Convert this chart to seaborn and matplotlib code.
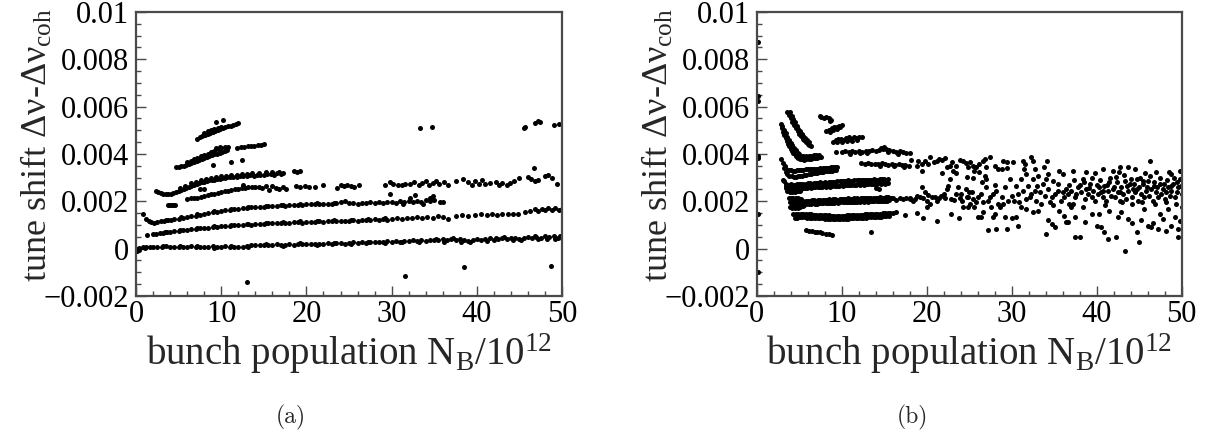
import matplotlib
matplotlib.use("Agg")
import matplotlib.pyplot as plt
import seaborn as sns
import pandas as pd
from matplotlib.ticker import MultipleLocator, FuncFormatter

# tune-shift values below are given in units of 1e-5
Y_UNIT = 1e-5

# ------------------------- panel (a) -------------------------
a_band_0 = [(0,-3),(0.4,4),(0.8,6),(1.2,8),(1.6,9),(2,7),(2.5,9),(3,8),(3.5,10),(4,8),(4.5,9),(5,7),(5.5,9),(6,8),(6.5,10),
            (7,8),(7.5,7),(8,9),(8.5,8),(9,10),(9.5,9),(10,8),(10.5,10),(11,9),(11.5,8),(12,6),(12.5,5),(13,10),(13.5,14),
            (14,16),(14.5,15),(15,17),(15.5,15),(16,16),(16.5,18),(17,16),(17.5,17),(18,19),(18.5,17),(19,18),(19.5,20),
            (20,18),(20.5,19),(21,21),(21.5,19),(22,20),(22.5,22),(23,20),(23.5,22),(24,24),(24.5,21),(25,23),(25.5,26),
            (26,24),(26.5,27),(27,25),(27.5,28),(28,30),(28.5,26),(29,29),(29.5,31),(30,28),(30.5,32),(31,30),(31.5,34),
            (32,31),(32.5,35),(33,33),(33.5,36),(34,34),(34.5,38),(35,35),(35.5,37),(36,40),(36.5,36),(37,39),(37.5,35),
            (38,41),(38.5,37),(39,33),(39.5,38),(40,42),(40.5,36),(41,40),(41.5,44),(42,38),(42.5,42),(43,45),(43.5,40),
            (44,44),(44.5,47),(45,42),(45.5,46),(46,49),(46.5,45),(47,50),(47.5,47),(48,52),(48.5,48),(49,53),(49.5,46),
            (50,44),(0.1,-12),(0.3,-5),(36.2,30),(38.2,30),(39.2,27),(41.2,32),(42.2,47),(44.2,36),(45.2,38),(47.2,42),
            (48.2,40),(49.2,42),(49.8,55),(46.8,55),(43.2,50),(1,2),(3.2,12),(5.2,12),(7.2,12),(9.2,4),(11.2,12),(13.2,8),
            (15.2,20),(17.2,13),(19.2,22),(21.2,17),(23.2,25),(25.2,20),(27.2,30),(29.2,25),(31.2,27),(33.2,30),(35.2,40),
            (37.2,43)]

a_band_1 = [(2,60),(2.4,63),(2.8,65),(3.2,68),(3.6,70),(4,72),(4.5,74),(5,76),(5.5,79),(6,80),(6.5,83),(7,84),(7.5,86),
            (8,88),(8.5,89),(9,91),(9.5,93),(10,94),(10.5,96),(11,97),(11.5,99),(12,100),(12.5,101),(13,103),(13.5,102),
            (14,104),(14.5,106),(15,105),(15.5,107),(16,108),(16.5,107),(17,109),(17.5,110),(18,108),(18.5,111),(19,112),
            (19.5,110),(20,113),(20.5,114),(21,112),(21.5,115),(22,114),(22.5,116),(23,115),(23.5,117),(24,116),(24.5,118),
            (25,117),(25.5,120),(26,118),(26.5,121),(27,119),(27.5,122),(28,124),(28.5,121),(29,125),(29.5,123),(30,126),
            (30.6,128),(31.2,125),(31.8,130),(32.4,128),(33,132),(33.6,129),(34.2,134),(34.8,131),(35.4,136),(36,133),
            (36.6,124),(37.5,138),(38.3,141),(39,136),(39.8,142),(40.5,145),(41.2,143),(41.8,146),(42.4,144),(43,147),
            (43.6,145),(44.2,148),(44.8,146),(45.6,155),(46.2,160),(46.8,166),(47.2,158),(47.6,168),(48,162),(48.4,170),
            (48.8,165),(49.2,172),(49.6,163),(50,167),(3.4,72),(5.2,80),(7.2,88),(9.2,95),(11.2,101),(13.2,106),(15.2,109),
            (17.2,112),(19.2,115),(21.2,117),(23.2,119),(25.2,122),(27.2,125),(29.2,128)]

a_band_2 = [(1.2,125),(1.5,118),(1.8,113),(2.1,110),(2.5,112),(2.9,115),(3.3,117),(3.7,120),(4.1,122),(4.5,125),(5,127),
            (5.5,130),(6,133),(6.5,136),(7,140),(7.5,143),(8,147),(8.5,150),(9,153),(9.5,156),(10,160),(10.5,162),(11,164),
            (11.5,166),(12,168),(12.5,170),(13,172),(13.5,174),(14,175),(14.5,176),(15,178),(15.5,179),(16,180),(16.5,181),
            (17,183),(17.5,182),(18,184),(18.5,185),(19,186),(19.5,185),(20,187),(20.5,188),(21,187),(21.5,189),(22,188),
            (22.5,190),(23,189),(23.5,191),(24,196),(24.5,202),(25,192),(25.5,194),(26,190),(26.5,193),(27,191),(27.5,195),
            (28,192),(28.5,197),(29,193),(29.5,196),(30,199),(30.5,194),(31,201),(31.5,196),(32,203),(32.5,198),(33,202),
            (33.5,199),(34,205),(34.5,200),(35,204),(35.7,197),(3.5,123),(5.3,133),(7.2,145),(9.2,158),(11.2,168),
            (13.2,177),(15.2,182),(17.2,186),(19.2,190),(21.2,191),(23.2,193),(29.8,231),(32.2,214),(32.8,227),(34.5,212),
            (34.9,222),(36,196),(33.7,190),(31.3,190)]

a_band_3 = [(6,210),(6.4,212),(6.8,214),(7.2,216),(7.6,220),(8,224),(8.4,226),(8.8,229),(9.2,232),(9.6,236),(10,240),
            (10.4,242),(10.8,245),(11.2,248),(11.6,250),(12,253),(12.4,255),(12.8,257),(13.2,259),(13.6,261),(14,260),
            (14.4,262),(14.8,258),(15.2,263),(15.6,248),(16,264),(16.4,258),(16.8,250),(17.2,262),(17.6,252),(18.8,266),
            (19.3,262),(19.8,265),(20.3,260),(21,262),(21.9,268),(23.6,257),(24,268),(24.4,264),(24.8,270),(25.2,266),
            (25.6,262),(26.2,268),(29.2,268),(29.8,282),(30.2,275),(30.8,270),(31.2,268),(31.6,275),(32.2,272),(32.6,280),
            (33.2,270),(33.6,276),(34,284),(34.4,270),(34.8,278),(35.2,287),(35.6,273),(36.2,280),(36.6,270),(37.5,285),
            (38.4,295),(39,280),(39.4,270),(39.8,284),(40.2,275),(40.6,288),(41,272),(41.6,278),(42.2,283),(42.6,270),
            (43,276),(43.5,268),(43.9,279),(44.4,285),(44.9,299),(46,302),(46.4,296),(46.8,285),(47.2,290),(48,305),
            (48.4,310),(48.8,298),(49.4,273)]

a_band_4 = [(2.3,245),(2.6,238),(2.9,234),(3.2,232),(3.5,230),(3.8,231),(4.1,233),(4.4,236),(4.7,240),(5,244),(5.3,248),
            (5.6,252),(5.9,257),(6.2,262),(6.5,266),(6.8,270),(7.1,273),(7.4,277),(7.7,280),(8,283),(8.3,285),(8.6,288),
            (8.9,290),(9.2,292),(9.5,294),(9.8,296),(10.1,298),(10.4,299),(10.7,301),(11,302),(11.4,303),(11.8,304),
            (12.2,306),(12.6,307),(13,308),(13.4,310),(13.8,309),(14.2,312),(14.6,311),(15,313),(15.4,314),(15.8,316),
            (16.2,313),(16.6,318),(17,315),(17.3,320),(5.2,258),(5.8,266),(6.4,276),(7,282),(7.6,288),(8.2,294),(8.8,300),
            (9.4,303),(10,306),(10.6,309),(11.2,311),(11.8,313),(12.4,315),(13,317),(13.6,318),(14.4,320),(15.2,322),
            (16,324),(16.8,325),(18.5,326),(18.9,322),(19.2,327),(3.8,183),(4,183),(4.2,184),(4.4,183),(4.6,185),
            (7.5,252),(8,250),(12.5,270)]

a_band_5 = [(4.7,344),(5,346),(5.3,348),(5.6,350),(5.9,354),(6.2,358),(6.5,362),(6.8,366),(7.1,370),(7.4,374),(7.7,378),
            (8,382),(8.3,386),(8.6,390),(8.9,394),(9.2,398),(9.5,402),(9.8,406),(10.1,410),(10.4,412),(10.7,416),(6,366),
            (6.4,372),(6.8,378),(7.2,384),(7.6,390),(8,396),(8.4,402),(8.8,408),(9.2,414),(9.6,420),(10,426),(10.4,430),
            (10.8,428),(9.8,430),(9.4,425),(10.6,422),(11.9,425),(12.3,428),(12.7,430),(13.1,432),(13.5,433),(13.9,435),
            (14.3,437),(14.7,440),(15,442),(9,355),(11.2,368),(12.4,376)]

a_band_6 = [(7.2,464),(7.5,470),(7.8,474),(8.1,480),(8.4,485),(8.7,490),(9,494),(9.3,498),(9.6,502),(9.9,506),(10.2,510),
            (10.5,514),(10.8,518),(11.1,520),(11.4,524),(11.7,527),(12,530),(8,490),(8.4,496),(8.8,500),(9.2,506),(9.6,510),
            (10,514),(9.4,534),(10.2,544)]

a_outliers = [(0.8,147),(1.3,58),(13,-140),(31.6,-114),(38.5,-76),(48.7,-72),(33.3,510),(34.7,513),(45.5,508),(45.6,515),
              (46.8,530),(47.2,540),(47.4,535),(49,522),(49.6,528),(46.7,341)]

# ------------------------- panel (b) -------------------------
b_edge = [(0.1,872),(0.1,647),(0.1,623),(0.1,393),(0.1,383),(0.1,147),(0.1,-100)]

b_fan_1 = [(3.6,578),(3.8,565),(4,550),(4.2,535),(4.4,522),(4.6,508),(4.8,496),(5,484),(5.2,474),(5.4,465),(5.6,458),
           (5.8,450),(6,443),(6.2,437),(6.4,432),(3.9,578),(4.1,562),(4.3,547),(4.5,534),(4.7,520),(4.9,507),(5.1,495),
           (5.3,485),(5.5,476),(5.7,468),(5.9,460),(6.1,452)]

b_fan_2 = [(2.8,527),(2.95,510),(3.1,494),(3.25,480),(3.4,467),(3.55,455),(3.7,444),(3.85,433),(4,423),(4.15,414),
           (4.3,406),(4.45,399),(4.6,393),(4.75,388),(4.9,384),(5.1,380),(5.35,377),(5.6,376),(5.85,377),(6.1,378),
           (6.35,380),(6.6,381),(6.85,383),(7.1,385),(7.35,387),(7.6,389),(3,520),(3.2,502),(3.4,487),(3.6,472),(3.8,459),
           (4,447),(4.2,436),(4.4,426),(4.6,416),(4.8,406),(5,398),(5.2,392),(5.5,390),(5.8,390),(6.1,391),(6.4,393),
           (6.7,394),(7,396),(7.3,397)]

b_fan_3 = [(2.9,379),(3.1,362),(3.3,348),(3.5,338),(3.75,332),(4,331),(4.25,330),(4.5,330),(4.75,331),(5,332),(5.25,333),
           (5.5,334),(5.75,335),(6,335),(6.25,336),(6.5,337),(6.75,337),(7,338),(7.25,338),(7.5,339),(7.75,340),(8,341),
           (8.25,341),(8.5,342),(8.75,343),(9,344),(9.25,345),(9.5,346),(3.2,340),(3.4,325),(3.6,315),(3.85,308),(4.1,305),
           (4.35,304),(4.6,304),(4.85,305),(5.1,307),(5.35,309),(5.6,311),(5.85,313),(6.1,315),(6.35,317),(6.6,318),
           (6.85,320),(7.1,321),(7.35,322),(7.6,324),(7.85,325),(8.1,326),(8.35,327),(8.6,329),(8.85,330),(9.1,331),
           (9.35,333)]

b_fan_4 = [(3.5,272),(3.75,271),(4,273),(4.25,271),(4.5,270),(4.75,272),(5,274),(5.25,273),(5.5,272),(5.75,275),(6,277),
           (6.25,276),(6.5,275),(6.75,278),(7,278),(7.25,276),(7.5,280),(7.75,279),(8,281),(8.25,279),(8.5,281),(8.75,283),
           (9,282),(9.25,280),(9.5,284),(9.75,284),(10,286),(10.25,284),(10.5,286),(10.75,288),(11,287),(11.25,285),
           (11.5,289),(11.75,288),(12,290),(12.25,288),(12.5,291),(12.75,290),(13,292),(13.25,290),(13.5,291),(13.75,293),
           (14,292),(14.25,290),(14.5,294),(14.75,293),(15,295),(15.25,292),(15.5,294),(3.4,256),(3.65,254),(3.9,253),
           (4.15,255),(4.4,252),(4.65,254),(4.9,256),(5.15,254),(5.4,257),(5.65,256),(5.9,258),(6.15,260),(6.4,258),
           (6.65,259),(6.9,261),(7.15,259),(7.4,262),(7.65,261),(7.9,263),(8.15,261),(8.4,264),(8.65,262),(8.9,265),
           (9.15,263),(9.4,266),(9.65,265),(9.9,268),(10.15,266),(10.4,269),(10.65,267),(10.9,270),(11.15,268),(11.4,271),
           (11.65,269),(11.9,272),(12.15,270),(12.4,273),(12.65,271),(12.9,274),(13.15,272),(13.4,274),(13.65,272),
           (13.9,275),(14.15,273),(14.4,276),(14.65,274),(14.9,276),(15.15,274),(15.4,277),(3.5,264),(3.8,262),(4.1,261),
           (4.4,262),(4.7,263),(5,264),(5.3,265),(3.6,242),(3.9,240),(4.2,240),(4.5,241),(4.8,243),(5.1,245),(3.1,292),
           (3.2,285),(14.4,252),(14,258)]

b_fan_5 = [(4,199),(4.25,200),(4.5,198),(4.75,201),(5,200),(5.25,202),(5.5,200),(5.75,203),(6,203),(6.25,202),(6.5,205),
           (6.75,204),(7,203),(7.25,206),(7.5,205),(7.75,207),(8,205),(8.25,207),(8.5,208),(8.75,206),(9,208),(9.25,209),
           (9.5,207),(9.75,210),(10,209),(10.25,211),(10.5,209),(10.75,212),(11,211),(11.25,210),(11.5,213),(11.75,212),
           (12,211),(12.25,214),(12.5,213),(12.75,215),(13,213),(13.25,215),(13.5,216),(13.75,214),(14,216),(14.25,215),
           (14.5,217),(14.75,216),(15,215),(15.25,217),(15.5,218),(15.75,216),(4.1,185),(4.35,186),(4.6,184),(4.85,187),
           (5.1,186),(5.35,188),(5.6,186),(5.85,189),(6.1,189),(6.35,188),(6.6,191),(6.85,190),(7.1,189),(7.35,192),
           (7.6,191),(7.85,193),(8.1,191),(8.35,193),(8.6,194),(8.85,192),(9.1,194),(9.35,195),(9.6,193),(9.85,196),
           (10.1,195),(10.35,197),(10.6,195),(10.85,198),(11.1,197),(11.35,196),(11.6,199),(11.85,198),(12.1,197),
           (12.35,200),(12.6,199),(12.85,201),(13.1,199),(13.35,201),(13.6,202),(13.85,200),(14.1,202),(14.35,201),
           (14.6,203),(14.85,202),(15.1,201),(15.35,203),(15.6,204),(3.8,212),(4,215),(4.3,216),(4.6,214),(4.9,212),
           (5.2,210),(3.9,178),(4.2,172),(4.5,170),(4.8,173),(5.1,176),(5.4,180),(3.9,195),(4.3,192),(16,212),(16.4,206),
           (16.8,214),(17.2,209),(17.6,216),(18,211)]

b_fan_6 = [(4.3,145),(4.6,146),(4.9,146),(5.2,146),(5.5,146),(5.8,146),(6.1,145),(6.4,145),(6.7,144),(7,144),(7.3,143),
           (7.6,142),(7.9,142),(8.2,141),(8.5,141),(8.8,140),(9.1,140),(9.4,140),(9.7,139),(10,139),(10.3,140),(10.6,141),
           (10.9,141),(11.2,142),(11.5,143),(11.8,143),(12.1,144),(12.4,144),(12.7,145),(13,145),(13.3,146),(13.6,146),
           (13.9,146),(14.2,147),(14.5,148),(14.8,149),(15.1,150),(15.4,150),(15.7,151),(16,152),(4.45,131),(4.75,131),
           (5.05,132),(5.35,132),(5.65,132),(5.95,131),(6.25,131),(6.55,130),(6.85,130),(7.15,129),(7.45,128),(7.75,128),
           (8.05,127),(8.35,127),(8.65,126),(8.95,126),(9.25,125),(9.55,125),(9.85,125),(10.15,126),(10.45,127),
           (10.75,127),(11.05,128),(11.35,129),(11.65,129),(11.95,130),(12.25,130),(12.55,131),(12.85,131),(13.15,132),
           (13.45,132),(13.75,133),(14.05,133),(14.35,134),(14.65,135),(14.95,136),(15.25,136),(15.55,137),(16.4,154),
           (17.5,144)]

b_fan_7 = [(5.8,79),(6.1,75),(6.5,73),(6.8,72),(7.1,69),(7.4,70),(7.7,66),(8.1,62),(8.5,60),(8.9,57),(13.5,69)]

b_upper = [(7.4,560),(7.6,556),(7.9,552),(8.2,556),(8.5,552),(8.7,545),(8.6,540),
           (8.2,496),(8.5,502),(8.8,508),(9.1,512),(9.4,516),(9.7,520),(10,524),(8.6,494),(9,500),(9.4,506),(9.8,512),
           (9,452),(9.3,458),(9.6,462),(9.9,465),(10.2,460),(10.5,466),(10.8,470),(11.1,465),(11.4,470),(11.7,468),
           (12,472),(12.4,470),(9.5,450),(10,452),(10.6,455),(11.2,456),(11.8,458),
           (10,408),(10.4,412),(10.8,410),(11.2,413),(11.6,410),(12,412),(12.4,408),(12.8,411),(13.2,413),(13.6,415),
           (14,414),(14.4,418),(14.8,420),(15.2,423),(15.6,416),(16,413),(16.4,410),(16.8,412),(17.2,408),(17.6,405),
           (18,403),(14.6,425),(15,428),(11,402),(13,404),(12.2,404),(15.4,408),(16.6,402),(9.3,410),
           (12.3,360),(12.7,358),(13.1,361),(13.5,357),(13.9,359),(14.3,356),(14.7,360),(15.1,357),(15.5,355),(15.9,358),
           (16.3,354),(16.7,356),(17.1,352),(17.5,354),(17.9,350),(14.5,350),(16.1,348),(17.3,345)]

b_scatter_18_25 = [(18.2,375),(18.8,351),(19.4,358),(19.8,372),(20.4,386),(20.2,358),(20.8,365),(21.2,372),(21.8,375),
                   (22.2,383),(22.4,347),(22.7,351),(23.1,330),(23.5,351),(23.9,375),(24.3,372),(24.9,344),(19,370),
                   (21.5,380),(23,368),(24.6,360),(19.4,327),(21.8,320),(23.5,318),(24.7,301),
                   (18.4,203),(18.8,224),(19.4,262),(19.8,238),(20,203),(20.4,189),(20.6,217),(21.2,203),(21.5,214),
                   (22,231),(22.4,252),(22.5,266),(22.7,294),(22.9,210),(23.4,231),(23.7,259),(24,231),(24.1,203),
                   (24.6,252),(24.7,217),(25,238),(18,214),(18.6,210),(19.2,220),(19.6,212),(20.2,225),(21,218),
                   (21.7,222),(22.2,213),(23.2,205),(23.9,215),
                   (18.8,149),(19.6,130),(21.2,116),(23.8,130),(22.9,146),(24.9,175),(24.3,178),(20,175)]

b_cloud_upper = [(25.1,365),(25.5,351),(25.8,344),(26.2,358),(26.6,372),(26.8,379),(27,347),(27.5,389),(28,351),(28.4,337),
                 (28.8,337),(29,372),(29.4,365),(29.5,341),(30.2,365),(31.3,372),(31.4,337),(31.6,358),(31.7,316),
                 (32.3,386),(32.5,372),(32.7,337),(33.1,309),(33.8,347),(34.2,369),(34.3,316),(35.6,330),(36,316),
                 (37.2,330),(38.8,323),(40.7,337),(41.9,330),(42.7,344),(43.7,347),(44.5,337),(46.3,372),(47,323),
                 (48.8,316),(49.8,330),(25.6,330),(26.2,323),(26.8,309),(27,294)]

b_cloud_middle = [(24.9,217),(25.3,238),(25.5,210),(25.8,196),(26,217),(26.4,231),(26.6,196),(27,259),(27.2,203),(27.4,217),
                  (27.6,175),(27.8,231),(28.2,245),(28.4,189),(28.8,217),(29.2,259),(29.6,203),(29.8,294),(30,224),
                  (30.3,203),(30.7,231),(31.1,294),(31.3,245),(31.7,210),(31.9,266),(32.1,217),(32.3,231),(32.5,294),
                  (32.7,245),(32.9,203),(33.3,238),(33.5,189),(33.7,273),(33.9,224),(34.3,252),(34.5,196),(34.7,217),
                  (34.9,287),(35.1,231),(35.4,245),(35.8,203),(36,238),(36.2,217),(36.4,252),(36.6,231),(37,245),
                  (37.2,189),(37.4,217),(37.6,231),(37.8,259),(38.2,238),(38.4,294),(38.6,210),(38.8,252),(39,231),
                  (39.2,273),(39.4,217),(39.6,245),(39.8,203),(40.2,231),(40.3,259),(40.5,238),(40.7,217),(40.9,266),
                  (41.1,203),(41.3,245),(41.5,280),(41.7,224),(41.9,252),(42.1,217),(42.3,302),(42.5,238),(42.7,203),
                  (42.9,259),(43.1,231),(43.3,287),(43.5,210),(43.7,245),(43.9,273),(44.1,217),(44.3,252),(44.5,238),
                  (44.7,294),(44.9,203),(45,259),(45.2,231),(45.4,273),(45.6,217),(45.8,245),(46,287),(46.2,224),
                  (46.4,252),(46.6,203),(46.8,266),(47,238),(47.2,217),(47.4,273),(47.6,231),(47.8,252),(48,210),
                  (48.2,238),(48.4,259),(48.6,224),(48.8,245),(49,273),(49.2,217),(49.4,238),(49.6,259),(49.8,294),
                  (50,231),(38,270),(38.5,280),(39.1,255),(39.5,300),(40,270),(40.4,290),(40.8,245),(41.2,270),(41.6,300),
                  (42,260),(42.4,280),(42.8,240),(43.2,310),(43.6,265),(44,295),(44.4,275),(44.8,250),(45.1,300),
                  (45.5,285),(45.9,260),(46.3,305),(46.7,280),(47.1,260),(47.5,300),(47.9,275),(48.3,290),(48.7,265),
                  (49.1,300),(49.5,280),(49.9,265),(43,195),(44.2,190),(45.3,195),(46.9,190),(48.1,195),(49.3,190),
                  (41,185),(39.8,320),(42.6,325),(45.7,320),(48.5,325),(36.8,270),(37.3,290),(35.5,275),(34,295),
                  (33,265),(30.5,265),(28,270),(26.5,280),(25.4,300),(30.9,195),(29,190),(34.8,185),(36.8,190)]

b_cloud_lower = [(25.1,189),(25.6,175),(26,132),(26.4,132),(26.6,154),(27.2,80),(27.8,132),(28,147),(28.2,83),(28.6,175),
                 (29.2,132),(29.4,83),(30,130),(30.5,132),(30.7,97),(31.1,175),(31.7,168),(32.5,154),(33.1,161),(34,62),
                 (34.3,121),(34.7,104),(35.1,90),(35.6,161),(36.2,139),(36.4,111),(36.6,111),(37,175),(37.4,132),
                 (37.5,48),(38,48),(38.4,175),(38.6,111),(39.4,147),(40,97),(40.3,147),(40.5,90),(40.9,69),(41.3,41),
                 (41.5,161),(42.3,48),(42.5,132),(42.9,154),(43.3,-11),(43.7,125),(44.1,107),(44.7,69),(45,27),
                 (45.2,121),(45.6,168),(46,94),(46.4,90),(46.6,107),(47.2,83),(47.4,147),(47.8,125),(48.2,73),(48.4,168),
                 (48.8,97),(49.2,132),(49.6,48),(49.6,83),(49.8,118),(50,175)]

panel_a_bands = [a_band_0, a_band_1, a_band_2, a_band_3, a_band_4, a_band_5, a_band_6, a_outliers]
panel_b_bands = [b_edge, b_fan_1, b_fan_2, b_fan_3, b_fan_4, b_fan_5, b_fan_6, b_fan_7, b_upper,
                 b_scatter_18_25, b_cloud_upper, b_cloud_middle, b_cloud_lower]

x_ticks_major = 10
x_ticks_minor = 2
y_ticks_major = 0.002
y_ticks_minor = 0.0005


def to_frame(bands):
    rows = [p for band in bands for p in band]
    df = pd.DataFrame(rows, columns=["N", "shift"])
    df["shift"] = df["shift"] * Y_UNIT
    return df


sns.set_style("ticks")
plt.rcParams["font.family"] = ["Liberation Serif", "DejaVu Serif"]
plt.rcParams["mathtext.fontset"] = "custom"
plt.rcParams["mathtext.rm"] = "Liberation Serif"
plt.rcParams["mathtext.it"] = "Liberation Serif"
plt.rcParams["mathtext.bf"] = "Liberation Serif"
plt.rcParams["mathtext.sf"] = "Liberation Serif"

fig = plt.figure(figsize=(12.1, 4.4), dpi=100)
ax_a = fig.add_axes([0.1124, 0.3273, 0.3521, 0.6455])
ax_b = fig.add_axes([0.6254, 0.3273, 0.3512, 0.6455])

frame_col = "#4a4a4a"
fmt = FuncFormatter(lambda v, p: f"{v:g}".replace("-", "\u2212"))

for ax, bands in [(ax_a, panel_a_bands), (ax_b, panel_b_bands)]:
    df = to_frame(bands)
    sns.scatterplot(data=df, x="N", y="shift", ax=ax, color="black", s=13,
                    linewidth=0, legend=False)
    ax.set_xlim(0, 50)
    ax.set_ylim(-0.002, 0.01)
    ax.xaxis.set_major_locator(MultipleLocator(x_ticks_major))
    ax.xaxis.set_minor_locator(MultipleLocator(x_ticks_minor))
    ax.yaxis.set_major_locator(MultipleLocator(y_ticks_major))
    ax.yaxis.set_minor_locator(MultipleLocator(y_ticks_minor))
    ax.yaxis.set_major_formatter(fmt)
    ax.tick_params(which="both", direction="in", top=False, right=False,
                   color=frame_col, labelsize=22, labelcolor="black")
    ax.tick_params(which="major", length=7.5, width=1.0)
    ax.tick_params(which="minor", length=3.8, width=1.0)
    ax.tick_params(axis="y", pad=5)
    ax.tick_params(axis="x", pad=3)
    for sp in ax.spines.values():
        sp.set_visible(True)
        sp.set_color(frame_col)
        sp.set_linewidth(1.6)
    ax.set_ylabel(r"tune shift $\Delta\nu$-$\Delta\nu_{\mathrm{coh}}$", fontsize=26)
    ax.set_xlabel(r"bunch population N$_{\mathrm{B}}$/10$^{12}$", fontsize=28)
    ax.yaxis.set_label_coords(-0.19, 0.53)
    ax.xaxis.set_label_coords(0.5, -0.125)

fig.text(291 / 1210, 1 - 417 / 440, "(a)", ha="center", va="center", fontsize=17, family="cmr10")
fig.text(912 / 1210, 1 - 417 / 440, "(b)", ha="center", va="center", fontsize=17, family="cmr10")

fig.savefig("out.png", dpi=100)
